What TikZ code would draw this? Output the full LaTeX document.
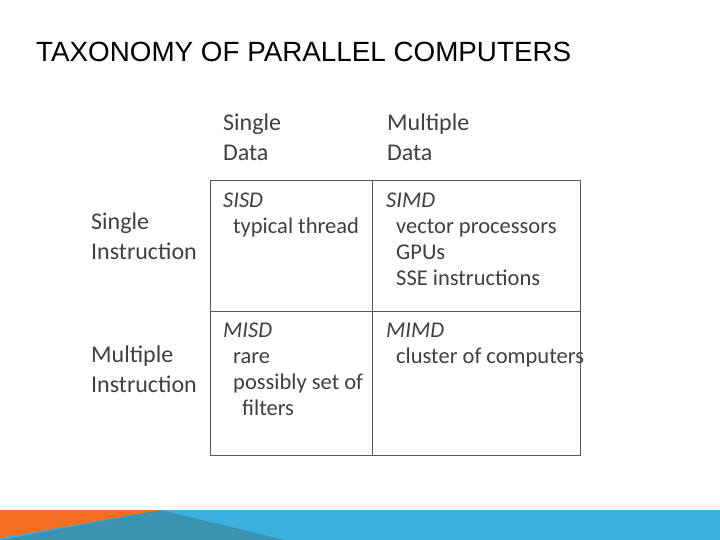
\documentclass[tikz,border=0pt]{standalone}
\usepackage{fontspec}
\setmainfont{Carlito}
\newfontfamily\titlefont{Liberation Sans}
\definecolor{lb}{HTML}{3AB0DC}
\definecolor{db}{HTML}{3A93B2}
\definecolor{og}{HTML}{F26F21}
\definecolor{tx}{HTML}{404040}
\begin{document}
\begin{tikzpicture}[x=1pt,y=-1pt,
  lbl/.style={anchor=north west,align=left,inner sep=0pt,font=\fontsize{24}{30}\selectfont,text=tx},
  cell/.style={anchor=north west,align=left,inner sep=0pt,font=\fontsize{22.5}{26}\selectfont,text=tx}]
\useasboundingbox (0,0) rectangle (720,540);
\fill[white] (0,0) rectangle (720,540);
\fill[lb] (0,510) rectangle (720,540);
\fill[og] (0,510) -- (160,510) -- (0,538) -- cycle;
\fill[db] (0,540) -- (160,510) -- (285,540) -- cycle;
\node[anchor=west,inner sep=0pt,font=\titlefont\fontsize{27.8}{30}\selectfont] (title) at (36,52) {TAXONOMY OF PARALLEL COMPUTERS};
\node[lbl] (sd) at (223,114) {Single\\Data};
\node[lbl] (md) at (387,114) {Multiple\\Data};
\node[lbl] (si) at (91,213) {Single\\Instruction};
\node[lbl] (mi) at (91,346) {Multiple\\Instruction};
\draw[gray!70!black,line width=0.8pt] (210,180) rectangle (580,455);
\draw[gray!70!black,line width=0.8pt] (372,180) -- (372,455);
\draw[gray!70!black,line width=0.8pt] (210,311) -- (580,311);
\node[cell] (c1) at (223,193) {\textit{SISD}\\\hspace{10pt}typical thread};
\node[cell] (c2) at (386,193) {\textit{SIMD}\\\hspace{10pt}vector processors\\\hspace{10pt}GPUs\\\hspace{10pt}SSE instructions};
\node[cell] (c3) at (223,323) {\textit{MISD}\\\hspace{10pt}rare\\\hspace{10pt}possibly set of\\\hspace{19pt}filters};
\node[cell] (c4) at (386,323) {\textit{MIMD}\\\hspace{10pt}cluster of computers};
\end{tikzpicture}
\end{document}
